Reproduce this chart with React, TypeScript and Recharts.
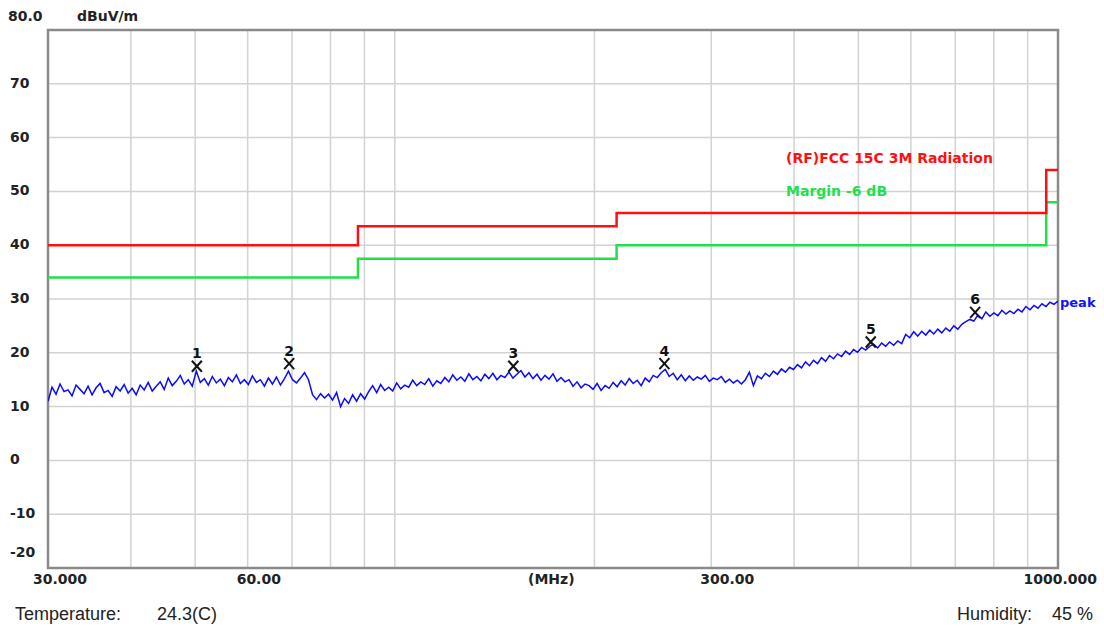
import { ComposedChart, Line, Scatter, XAxis, YAxis, CartesianGrid, ReferenceArea } from "recharts";

// y axis ticks (dBuV/m) and x grid ticks (MHz, log)
const Y_TICKS = [-20, -10, 0, 10, 20, 30, 40, 50, 60, 70, 80];
const X_TICKS = [30, 40, 50, 60, 70, 80, 90, 100, 200, 300, 400, 500, 600, 700, 800, 900, 1000];
const X_LABELS: Record<number, string> = { 30: "30.000", 60: "60.00", 300: "300.00", 1000: "1000.000" };

// FCC 15C 3M limit steps and the -6 dB margin line
const LIMIT_F = [30, 88, 216, 960, 1000];
const LIMIT_DB = [40, 43.5, 46, 54, 54];
const MARGIN_DB = [34, 37.5, 40, 48, 48];

// peak trace (sweep points are log spaced 30..1000 MHz)
const TRACE_DB = [
  11.0, 13.6, 12.3, 14.2, 12.8, 13.1, 12.0, 14.0, 13.2, 12.4,
  13.8, 12.2, 13.5, 14.3, 12.6, 13.0, 11.9, 13.7, 12.9, 14.1,
  12.5, 13.4, 12.2, 14.0, 13.1, 14.5, 12.9, 13.8, 14.6, 13.2,
  15.3, 13.9, 14.7, 15.8, 14.2, 15.0, 13.8, 16.6, 14.5, 15.2,
  14.0, 15.6, 14.4, 15.1, 13.9, 15.4, 14.6, 15.9, 14.3, 15.0,
  14.1, 15.7, 14.5, 15.0, 13.8, 15.3, 14.2, 15.5, 14.0, 15.2,
  16.6, 15.0, 14.4, 15.3, 16.3, 15.0, 12.2, 11.3, 12.4, 11.6,
  12.3, 11.2, 12.6, 10.0, 11.5, 10.6, 12.2, 11.0, 12.4, 11.4,
  12.8, 13.9, 12.6, 14.1, 13.0, 13.6, 12.9, 14.4, 13.3, 14.0,
  13.6, 14.9, 13.9, 14.6, 14.1, 15.2, 13.8, 14.8, 14.3, 15.4,
  14.6, 15.9, 14.9, 15.5, 14.7, 16.1, 15.0, 15.6, 14.8, 16.0,
  15.2, 16.2, 15.0, 15.8, 15.4, 16.4, 15.3, 16.0, 16.7, 15.5,
  16.3, 15.2, 16.0, 14.9, 15.8, 15.1, 16.1, 14.7, 15.4, 14.6,
  15.0, 13.8, 14.6, 13.5, 14.2, 13.9, 13.2, 14.3, 13.0, 13.9,
  13.4, 14.5, 13.7, 14.8, 14.0, 15.2, 14.3, 14.9, 13.9, 15.3,
  14.6, 15.8, 15.4, 16.3, 16.9, 15.6, 16.2, 15.0, 15.9, 14.8,
  15.7, 14.9, 15.5, 15.1, 15.8, 14.7, 15.3, 15.0, 15.6, 14.5,
  15.1, 14.4, 14.9, 14.2, 15.0, 16.4, 13.9, 15.7, 15.2, 16.2,
  15.6, 16.6, 16.0, 17.0, 16.4, 17.3, 16.9, 17.8, 17.2, 18.3,
  17.6, 18.6, 18.0, 19.1, 18.4, 19.5, 18.9, 19.8, 19.3, 20.3,
  19.7, 20.6, 20.1, 21.0, 20.5, 21.2, 21.6, 20.9, 21.8, 21.2,
  22.0, 21.4, 22.2, 21.7, 23.4, 22.8, 23.9, 23.1, 24.0, 23.3,
  24.2, 23.5, 24.4, 23.7, 24.6, 24.0, 25.0, 24.4, 25.3, 25.8,
  26.2, 25.9, 27.0, 26.3, 27.6, 26.8, 27.4, 26.9, 27.9, 27.2,
  27.8, 27.3, 28.1, 27.6, 28.6, 28.0, 28.8, 28.3, 29.1, 28.6,
  29.4, 29.0, 29.6,
];

// marker table
const MARK_NO = [1, 2, 3, 4, 5, 6];
const MARK_F = [50.3, 69.3, 150.9, 255, 522, 750];
const MARK_DB = [17.5, 18.0, 17.5, 18.0, 22.0, 27.5];

const FONT = "'DejaVu Sans', sans-serif";
const BODY_FONT = "'Liberation Sans', Arial, sans-serif";

const traceData = TRACE_DB.map((v, i) => ({
  f: 30 * Math.pow(1000 / 30, i / (TRACE_DB.length - 1)),
  v,
}));
const limitData = LIMIT_F.map((f, i) => ({ f, v: LIMIT_DB[i] }));
const marginData = LIMIT_F.map((f, i) => ({ f, v: MARGIN_DB[i] }));
const markerData = MARK_F.map((f, i) => ({ f, v: MARK_DB[i], n: MARK_NO[i] }));

const XTick = (props: any) => {
  const { x, payload } = props;
  const text = X_LABELS[payload.value];
  if (!text) return null;
  const isLast = payload.value === 1000;
  const dx = payload.value === 30 ? -15 : isLast ? 39 : -11;
  return (
    <text x={x + dx} y={579} textAnchor={isLast ? "end" : "start"} dominantBaseline="central"
      fontFamily={FONT} fontWeight="bold" fontSize={14} fill="#222">
      {text}
    </text>
  );
};

const YTick = (props: any) => {
  const { y, payload } = props;
  const v = payload.value;
  const text = v === 80 ? "80.0" : String(v);
  const dy = v === 80 ? -14 : v === -20 ? -16 : -1;
  return (
    <text x={v === 80 ? 8 : 10} y={y + dy} textAnchor="start" dominantBaseline="central"
      fontFamily={FONT} fontWeight="bold" fontSize={14} fill="#222">
      {text}
    </text>
  );
};

const MarkerShape = (props: any) => {
  const { cx, cy, payload } = props;
  return (
    <g>
      <line x1={cx - 5} y1={cy - 5.5} x2={cx + 5} y2={cy + 5.5} stroke="#111" strokeWidth={2} />
      <line x1={cx - 5} y1={cy + 5.5} x2={cx + 5} y2={cy - 5.5} stroke="#111" strokeWidth={2} />
      <text x={cx} y={cy - 8} textAnchor="middle" fontFamily={FONT} fontWeight="bold" fontSize={14} fill="#111">
        {payload.n}
      </text>
    </g>
  );
};

const PeakLabel = (props: any) => {
  const { x, y, index } = props;
  if (index !== TRACE_DB.length - 1) return null;
  return (
    <text x={x + 2} y={y + 1} dominantBaseline="central" fontFamily={FONT} fontWeight="bold" fontSize={13} fill="#1010ff">
      peak
    </text>
  );
};

const textBase: React.CSSProperties = { position: "absolute", whiteSpace: "nowrap", lineHeight: "20px" };

export default function App() {
  return (
    <div style={{ position: "absolute", left: 0, top: 0, width: 1104, height: 627, background: "#fff" }}>
      <ComposedChart width={1104} height={627} margin={{ top: 30, right: 46, bottom: 0, left: 0 }}>
        <CartesianGrid stroke="#d2d2d2" strokeWidth={1.5} />
        <XAxis dataKey="f" type="number" scale="log" domain={[30, 1000]} ticks={X_TICKS} interval={0}
          allowDataOverflow axisLine={false} tickLine={false} height={59} tick={<XTick />} />
        <YAxis type="number" domain={[-20, 80]} ticks={Y_TICKS} interval={0} allowDataOverflow
          axisLine={false} tickLine={false} width={48} tick={<YTick />} />
        <ReferenceArea x1={30} x2={1000} y1={-20} y2={80} fill="none" stroke="#8a8a8a" strokeWidth={2.5} />
        <Line data={marginData} dataKey="v" type="stepAfter" stroke="#22e04a" strokeWidth={2.5} dot={false} isAnimationActive={false} />
        <Line data={limitData} dataKey="v" type="stepAfter" stroke="#ff1010" strokeWidth={2.5} dot={false} isAnimationActive={false} />
        <Line data={traceData} dataKey="v" type="linear" stroke="#0a0aff" strokeWidth={1.5} dot={false}
          isAnimationActive={false} label={<PeakLabel />} />
        <Scatter data={markerData} dataKey="v" shape={<MarkerShape />} isAnimationActive={false} />
      </ComposedChart>
      <div style={{ ...textBase, left: 77, top: 6, fontFamily: FONT, fontWeight: "bold", fontSize: 14, color: "#222" }}>dBuV/m</div>
      <div style={{ ...textBase, left: 528, top: 569, fontFamily: FONT, fontWeight: "bold", fontSize: 14, color: "#222" }}>(MHz)</div>
      <div style={{ ...textBase, left: 786, top: 148, fontFamily: FONT, fontWeight: "bold", fontSize: 14, color: "#ff1010" }}>(RF)FCC 15C 3M Radiation</div>
      <div style={{ ...textBase, left: 786, top: 181, fontFamily: FONT, fontWeight: "bold", fontSize: 14, color: "#22e04a" }}>Margin -6 dB</div>
      <div style={{ ...textBase, left: 15, top: 604, fontFamily: BODY_FONT, fontSize: 18, color: "#222" }}>Temperature:</div>
      <div style={{ ...textBase, left: 157, top: 604, fontFamily: BODY_FONT, fontSize: 18, color: "#222" }}>24.3(C)</div>
      <div style={{ ...textBase, left: 957, top: 604, fontFamily: BODY_FONT, fontSize: 18, color: "#222" }}>Humidity:</div>
      <div style={{ ...textBase, left: 1052, top: 604, fontFamily: BODY_FONT, fontSize: 18, color: "#222" }}>45 %</div>
    </div>
  );
}
